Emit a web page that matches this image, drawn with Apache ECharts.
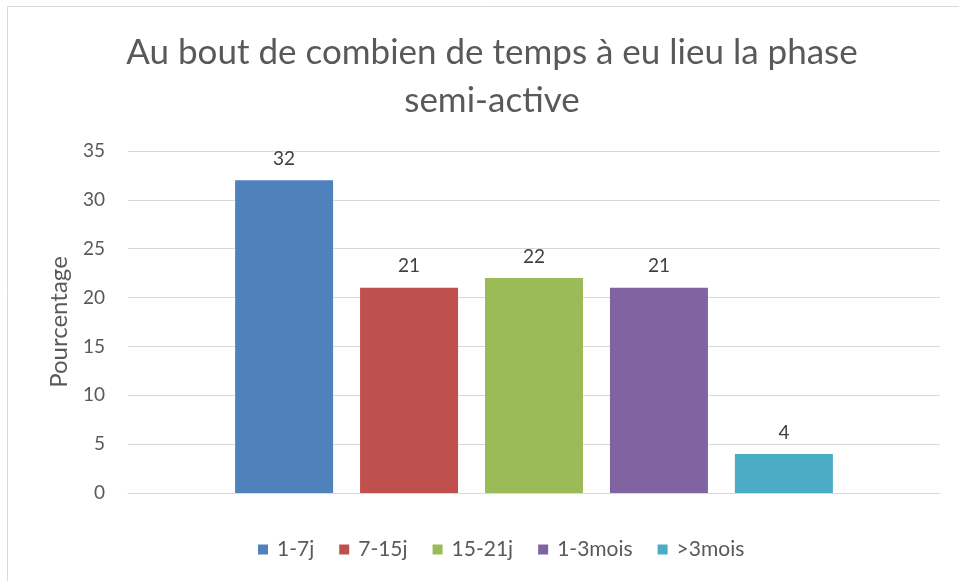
<!DOCTYPE html>
<html lang="fr">
<head>
  <meta charset="UTF-8">
  <title>Phase semi-active</title>
  <script src="https://cdn.jsdelivr.net/npm/echarts@6/dist/echarts.min.js"></script>
  <style>
    html, body { margin: 0; padding: 0; background: #fff; }
    #chart { width: 959px; height: 581px; }
  </style>
</head>
<body>
<div id="chart"></div>
<script>
  // données
  var seriesNames = ['1-7j', '7-15j', '15-21j', '1-3mois', '>3mois'];
  var seriesValues = [32, 21, 22, 21, 4];
  var seriesColors = ['#4F81BD', '#C0504D', '#9BBB59', '#8064A2', '#4BACC6'];
  var yTicks = [0, 5, 10, 15, 20, 25, 30, 35];

  var chart = echarts.init(document.getElementById('chart'), null, { renderer: 'canvas' });

  var series = seriesNames.map(function (name, i) {
    return {
      name: name,
      type: 'bar',
      barWidth: 98,
      barGap: '27.5%',
      itemStyle: { color: seriesColors[i] },
      label: {
        show: true,
        position: 'top',
        distance: 12,
        color: '#404040',
        fontFamily: 'Lato',
        fontSize: 19
      },
      data: [seriesValues[i]]
    };
  });

  var option = {
    backgroundColor: '#fff',
    animation: false,
    textStyle: { fontFamily: 'Lato' },
    graphic: [{
      type: 'rect',
      shape: { x: 7.5, y: 6.5, width: 1000, height: 700 },
      style: { fill: 'none', stroke: '#d9d9d9', lineWidth: 1 },
      silent: true
    }],
    title: {
      text: 'Au bout de combien de temps à eu lieu la phase\nsemi-active',
      left: 487,
      textAlign: 'center',
      top: 24,
      textStyle: {
        fontFamily: 'Lato',
        fontSize: 35,
        fontWeight: 'normal',
        color: '#595959',
        lineHeight: 48
      }
    },
    legend: {
      data: seriesNames,
      left: 253,
      top: 534,
      icon: 'rect',
      itemWidth: 10,
      itemHeight: 10,
      itemGap: 25,
      textStyle: { color: '#595959', fontSize: 21, fontFamily: 'Lato', padding: [0, 0, 0, 4] }
    },
    grid: { left: 128, right: 19, top: 151, bottom: 88 },
    xAxis: {
      type: 'category',
      data: [''],
      axisLine: { lineStyle: { color: '#d9d9d9' } },
      axisTick: { show: false },
      axisLabel: { show: false }
    },
    yAxis: {
      type: 'value',
      min: yTicks[0],
      max: yTicks[yTicks.length - 1],
      interval: 5,
      name: 'Pourcentage',
      nameLocation: 'middle',
      nameGap: 57,
      nameTextStyle: { color: '#595959', fontSize: 24, fontFamily: 'Lato' },
      axisLine: { show: false },
      axisTick: { show: false },
      axisLabel: { color: '#595959', fontSize: 19, fontFamily: 'Lato', margin: 23 },
      splitLine: { lineStyle: { color: '#d9d9d9' } }
    },
    series: series
  };

  chart.setOption(option);
  window.addEventListener('resize', chart.resize);
</script>
</body>
</html>
